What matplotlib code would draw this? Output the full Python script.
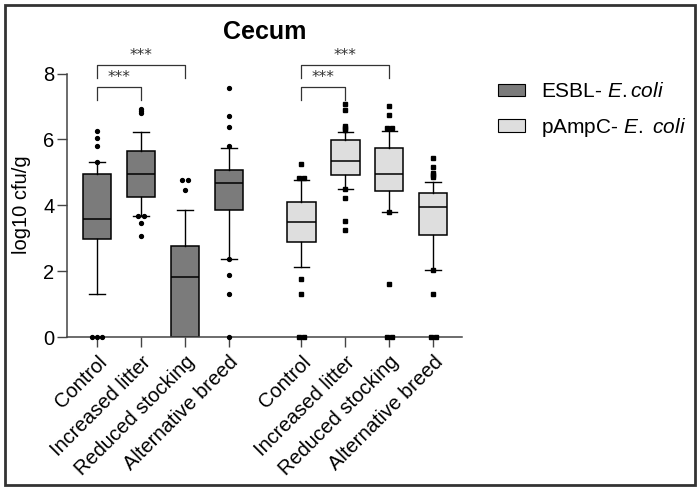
import numpy as np
import matplotlib
matplotlib.use("Agg")
import matplotlib.pyplot as plt
from matplotlib.patches import Patch, Rectangle

plt.rcParams["font.family"] = ["Liberation Sans", "DejaVu Sans"]
plt.rcParams["mathtext.fontset"] = "custom"
plt.rcParams["mathtext.it"] = "Liberation Sans:italic"
plt.rcParams["mathtext.rm"] = "Liberation Sans"

# ─── data (log10 cfu/g) ──────────────────────────────────────────────
groups = ["Control", "Increased litter", "Reduced stocking", "Alternative breed"]

esbl_q1 = [2.99, 4.24, 0.00, 3.85]
esbl_med = [3.57, 4.95, 1.82, 4.68]
esbl_q3 = [4.96, 5.64, 2.78, 5.07]
esbl_lo = [1.30, 3.68, 0.00, 2.38]
esbl_hi = [5.32, 6.23, 3.86, 5.74]
esbl_out = [
    [0, 0, 0, 5.33, 5.79, 6.05, 6.25],
    [3.07, 3.47, 3.68, 3.68, 6.79, 6.86, 6.93],
    [4.48, 4.78, 4.78],
    [0, 1.30, 1.88, 2.36, 5.79, 6.38, 6.71, 7.57],
]

pamp_q1 = [2.88, 4.91, 4.44, 3.10]
pamp_med = [3.50, 5.35, 4.94, 3.96]
pamp_q3 = [4.11, 5.99, 5.73, 4.38]
pamp_lo = [2.12, 4.49, 3.79, 2.04]
pamp_hi = [4.76, 6.24, 6.27, 4.72]
pamp_out = [
    [0, 0, 1.30, 1.77, 4.82, 4.82, 5.25],
    [3.24, 3.51, 4.22, 4.49, 6.28, 6.34, 6.40, 6.89, 7.09],
    [0, 0, 1.60, 3.79, 6.35, 6.35, 6.74, 7.03],
    [0, 0, 1.30, 2.04, 4.85, 4.92, 4.99, 5.17, 5.44],
]

# significance brackets: (from, to, height, label) within each series
brackets = [(0, 1, 7.59, "***"), (0, 2, 8.25, "***")]

DARK = "#7b7b7b"
LIGHT = "#dedede"
AXC = "#444444"
FS = 14.5

fig = plt.figure(figsize=(7.0, 4.91), dpi=100)
ax = fig.add_axes([0.0957, 0.3136, 0.5643, 0.5364])

pos1 = np.arange(4)
pos2 = np.arange(4) + 4.65


def stats(q1, med, q3, lo, hi):
    return [dict(med=m, q1=a, q3=b, whislo=l, whishi=h, fliers=[])
            for a, m, b, l, h in zip(q1, med, q3, lo, hi)]


def draw(st, pos, color, outs, marker):
    ax.bxp(st, positions=pos, widths=0.64, capwidths=0.36, patch_artist=True,
           showfliers=False,
           boxprops=dict(facecolor=color, edgecolor="black", lw=1.1),
           medianprops=dict(color="black", lw=1.1),
           whiskerprops=dict(color="black", lw=1.0),
           capprops=dict(color="black", lw=1.0))
    for p, vals in zip(pos, outs):
        vals = np.array(vals)
        for v in np.unique(vals):
            k = int((vals == v).sum())
            xs = p + (np.arange(k) - (k - 1) / 2) * 0.12
            ax.plot(xs, [v] * k, ls="none", marker=marker, ms=2.8,
                    color="black", clip_on=False, zorder=5)


draw(stats(esbl_q1, esbl_med, esbl_q3, esbl_lo, esbl_hi), pos1, DARK, esbl_out, "o")
draw(stats(pamp_q1, pamp_med, pamp_q3, pamp_lo, pamp_hi), pos2, LIGHT, pamp_out, "s")

for pos in (pos1, pos2):
    for a, b, h, lab in brackets:
        xa, xb = pos[a], pos[b]
        ax.plot([xa, xa, xb, xb], [h - 0.38, h, h, h - 0.38], color="#333333",
                lw=0.9, clip_on=False)
        ax.text((xa + xb) / 2, h + 0.3, lab, ha="center", va="center",
                fontsize=11, color="#333333", family="DejaVu Sans")

ax.set_xlim(-0.68, 8.3)
ax.set_ylim(0, 8)
ax.set_yticks([0, 2, 4, 6, 8])
ax.set_xticks(np.concatenate([pos1, pos2]))
ax.set_xticklabels(groups + groups, rotation=45, ha="right",
                   rotation_mode="anchor", fontsize=FS)
ax.tick_params(axis="y", labelsize=FS, length=7, width=1.0, color=AXC, pad=2)
ax.tick_params(axis="x", length=7, width=1.0, color=AXC, pad=4)
for s in ["top", "right"]:
    ax.spines[s].set_visible(False)
for s in ["left", "bottom"]:
    ax.spines[s].set_color(AXC)
    ax.spines[s].set_linewidth(1.1)

fig.text(22 / 700, 0.5826, "log10 cfu/g", rotation=90, ha="center",
         va="center", fontsize=FS)
fig.text(265 / 700, 1 - 32 / 491, "Cecum", ha="center", va="center",
         fontsize=18, fontweight="bold")

handles = [Patch(facecolor=DARK, edgecolor="black", lw=0.8),
           Patch(facecolor=LIGHT, edgecolor="black", lw=0.8)]
labels = [r"ESBL- $\it{E.coli}$", r"pAmpC- $\it{E.}$ $\it{coli}$"]
fig.legend(handles, labels, loc="upper left", bbox_to_anchor=(0.711, 0.832),
           frameon=False, fontsize=15, handlelength=1.3, handleheight=0.55,
           labelspacing=0.7, handletextpad=0.8, borderpad=0, borderaxespad=0)

fig.patches.append(Rectangle((0.0071, 0.0122), 0.986, 0.9776,
                             transform=fig.transFigure, fill=False,
                             lw=2, edgecolor="#333333"))

fig.savefig("out.png", dpi=100)
